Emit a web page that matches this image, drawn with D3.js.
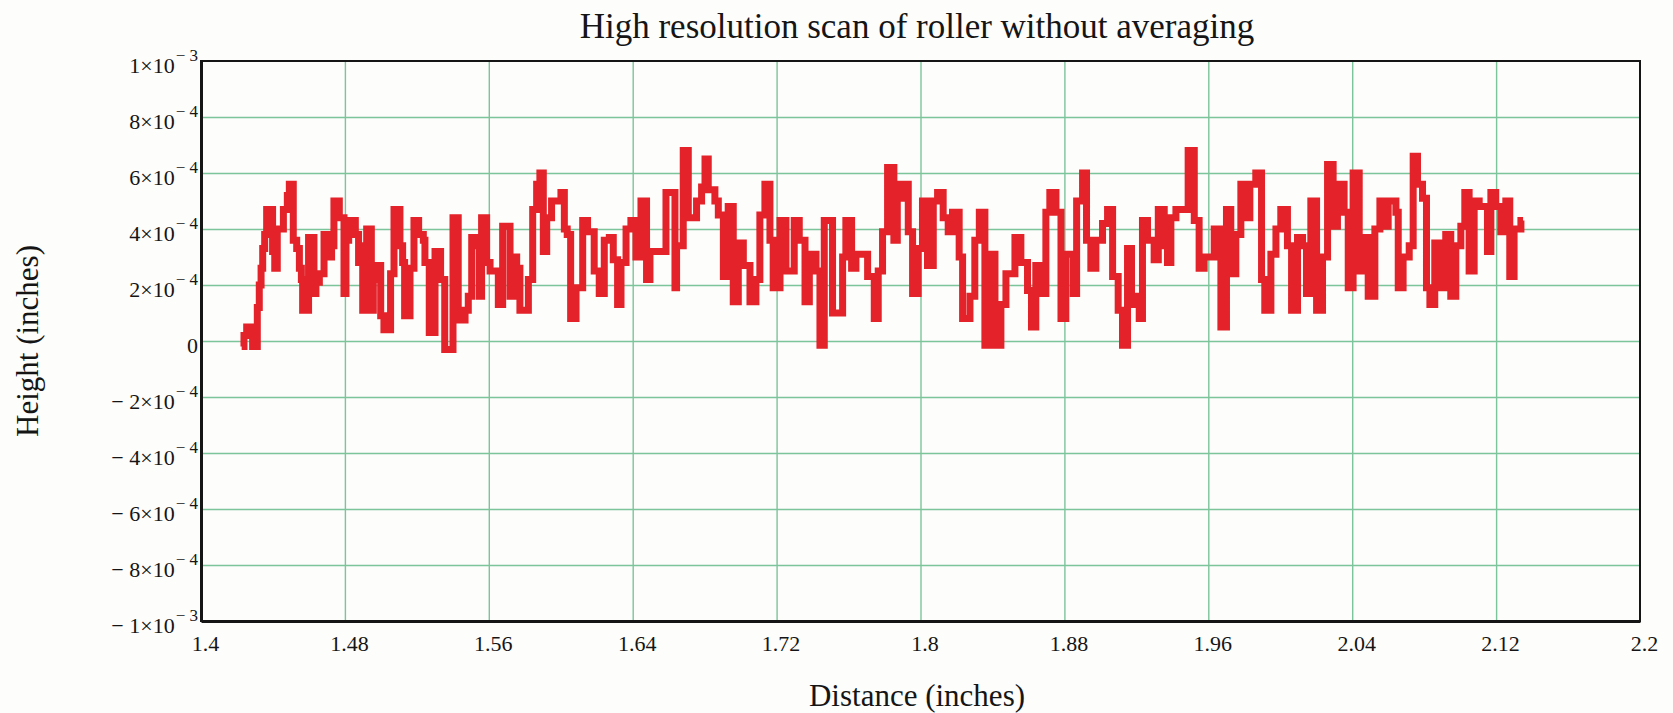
<!DOCTYPE html>
<html>
<head>
<meta charset="utf-8">
<script src="https://cdn.jsdelivr.net/npm/d3@7"></script>
<style>
  html, body { margin: 0; padding: 0; background: #fdfdfb; }
  svg { display: block; font-family: "Liberation Serif", "Times New Roman", serif; }
</style>
</head>
<body>
<svg id="chart" width="1673" height="713"></svg>
<script>
// Scan positions along the roller (inches)
const distance = [
  1.4226, 1.4239, 1.4254, 1.4287, 1.4313, 1.4324, 1.4334, 1.4343, 1.4354, 1.4365,
  1.4398, 1.4410, 1.4424, 1.4458, 1.4480, 1.4491, 1.4513, 1.4532, 1.4547, 1.4558,
  1.4565, 1.4598, 1.4628, 1.4639, 1.4658, 1.4684, 1.4712, 1.4726, 1.4739, 1.4769,
  1.4795, 1.4806, 1.4821, 1.4858, 1.4876, 1.4899, 1.4912, 1.4921, 1.4947, 1.4958,
  1.4973, 1.4999, 1.5017, 1.5054, 1.5073, 1.5106, 1.5121, 1.5132, 1.5162, 1.5184,
  1.5210, 1.5236, 1.5245, 1.5269, 1.5301, 1.5332, 1.5355,
  1.5401, 1.5430, 1.5468, 1.5486, 1.5505, 1.5532, 1.5547, 1.5560, 1.5588, 1.5607,
  1.5653, 1.5677, 1.5718, 1.5736, 1.5755, 1.5773, 1.5820, 1.5844, 1.5866, 1.5884,
  1.5903, 1.5922, 1.5949, 1.6001, 1.6020, 1.6036, 1.6055, 1.6085, 1.6122, 1.6149,
  1.6186, 1.6214, 1.6242, 1.6270, 1.6292, 1.6316, 1.6335, 1.6363, 1.6390, 1.6418,
  1.6446, 1.6477, 1.6496, 1.6585,
  1.6635, 1.6644, 1.6681, 1.6709, 1.6755, 1.6783, 1.6802, 1.6820, 1.6857, 1.6876,
  1.6904, 1.6931, 1.6959, 1.6987, 1.7015, 1.7052, 1.7085, 1.7107, 1.7135, 1.7163,
  1.7181, 1.7219, 1.7252, 1.7298, 1.7326, 1.7358, 1.7382, 1.7419, 1.7441, 1.7465,
  1.7511, 1.7567, 1.7585, 1.7617, 1.7641, 1.7706, 1.7743, 1.7765, 1.7789, 1.7817,
  1.7852, 1.7871, 1.7895, 1.7908, 1.7932, 1.7956, 1.7987, 1.8011, 1.8039, 1.8071,
  1.8095, 1.8126, 1.8154, 1.8178, 1.8215, 1.8234, 1.8275, 1.8302, 1.8327, 1.8358,
  1.8386, 1.8414, 1.8447, 1.8475, 1.8525, 1.8558, 1.8595, 1.8617, 1.8641, 1.8673,
  1.8697, 1.8719, 1.8753, 1.8781, 1.8808, 1.8849, 1.8868, 1.8901, 1.8923, 1.8947,
  1.8975, 1.9012, 1.9040,
  1.9068, 1.9099, 1.9123, 1.9151, 1.9173, 1.9197, 1.9216, 1.9234, 1.9262, 1.9299,
  1.9322, 1.9355, 1.9373, 1.9392, 1.9420, 1.9488, 1.9522, 1.9549, 1.9577, 1.9633,
  1.9670, 1.9701, 1.9725, 1.9753, 1.9781, 1.9809, 1.9831, 1.9864, 1.9896, 1.9914,
  1.9948, 1.9976, 2.0003, 2.0040, 2.0063, 2.0096, 2.0124, 2.0146, 2.0170, 2.0202,
  2.0235, 2.0263,
  2.0294, 2.0318, 2.0355, 2.0378, 2.0405, 2.0439, 2.0470, 2.0489, 2.0526, 2.0554,
  2.0578, 2.0600, 2.0643, 2.0656, 2.0683, 2.0717, 2.0739, 2.0763, 2.0791, 2.0813,
  2.0832, 2.0859, 2.0893, 2.0920, 2.0948, 2.0976, 2.1004, 2.1026, 2.1050, 2.1078,
  2.1106, 2.1152, 2.1171, 2.1198, 2.1226, 2.1254, 2.1276, 2.1300, 2.1338, 2.1350
];

// Measured height at each position, in ten-thousandths of an inch
const heightTenThou = [
  -0.2, 0.2, 0.5, -0.2, 1.2, 2.0, 2.6, 3.3, 3.8, 4.7,
  3.2, 2.6, 4.0, 4.7, 5.2, 5.6, 3.6, 3.3, 2.6, 2.2,
  1.1, 3.7, 1.7, 2.1, 2.4, 3.8, 3.0, 3.4, 5.0, 4.4,
  1.7, 3.6, 4.3, 3.8, 2.8, 1.1, 3.4, 4.0, 1.1, 2.2,
  2.7, 0.9, 0.4, 2.4, 4.7, 3.4, 2.8, 0.9, 2.6, 4.3,
  3.8, 3.6, 2.8, 0.3, 3.2, 2.2, -0.3,
  4.4, 0.75, 1.1, 1.6, 3.7, 3.4, 1.6, 4.4, 2.8, 2.5,
  1.3, 4.1, 1.6, 3.0, 2.6, 1.1, 2.2, 4.7, 5.6, 6.0,
  3.2, 4.4, 5.0, 5.3, 4.0, 3.8, 0.8, 1.9, 4.3, 3.9,
  2.5, 1.7, 3.6, 3.7, 2.9, 1.3, 2.8, 4.0, 4.3, 3.0,
  5.0, 2.2, 3.2, 5.3,
  1.9, 3.4, 6.8, 4.4, 5.0, 5.5, 6.5, 5.4, 5.0, 4.5,
  2.3, 4.8, 1.4, 3.5, 2.7, 1.4, 2.2, 4.5, 5.6, 3.6,
  1.9, 4.3, 2.5, 4.3, 3.6, 1.4, 3.1, 2.5, -0.15, 4.3,
  1.0, 3.0, 4.3, 2.6, 3.1, 2.3, 0.8, 2.5, 3.9, 6.2,
  3.6, 5.6, 5.1, 5.6, 3.9, 1.7, 3.3, 5.0, 2.7, 5.0,
  5.3, 4.4, 3.9, 4.6, 3.0, 0.8, 1.6, 3.6, 4.6, -0.15,
  3.1, -0.15, 1.3, 2.4, 3.7, 2.8, 1.8, 0.5, 2.7, 1.7,
  4.6, 5.3, 4.6, 0.8, 3.1, 1.7, 5.0, 6.0, 3.6, 2.6,
  3.6, 4.2, 4.7,
  2.3, 1.1, -0.15, 3.3, 1.3, 1.6, 0.8, 4.3, 3.6, 2.9,
  4.7, 3.4, 2.8, 4.4, 4.7, 6.8, 4.3, 2.6, 3.0, 4.0,
  0.5, 4.7, 2.4, 3.8, 5.6, 4.4, 5.6, 6.0, 2.2, 1.1,
  3.1, 4.0, 4.7, 3.4, 1.1, 3.7, 3.4, 1.7, 5.0, 1.1,
  3.0, 6.3,
  4.1, 5.6, 4.6, 1.9, 6.0, 2.5, 3.7, 1.6, 4.0, 5.0,
  4.1, 5.0, 4.6, 1.9, 3.0, 3.4, 6.6, 5.6, 5.1, 1.9,
  1.3, 3.5, 1.9, 3.8, 1.6, 3.4, 4.1, 5.3, 2.5, 5.0,
  4.8, 3.2, 5.3, 4.8, 3.9, 5.0, 2.3, 4.0, 4.3, 4.3
];

// Axis ticks
const xTickValues = [1.4, 1.48, 1.56, 1.64, 1.72, 1.8, 1.88, 1.96, 2.04, 2.12, 2.2];
const xTickLabels = ["1.4", "1.48", "1.56", "1.64", "1.72", "1.8", "1.88", "1.96", "2.04", "2.12", "2.2"];
const yTickValues = [1e-3, 8e-4, 6e-4, 4e-4, 2e-4, 0, -2e-4, -4e-4, -6e-4, -8e-4, -1e-3];
const yTickLabels = [
  "1×10^\u2212 3", "8×10^\u2212 4", "6×10^\u2212 4", "4×10^\u2212 4", "2×10^\u2212 4", "0",
  "\u2212 2×10^\u2212 4", "\u2212 4×10^\u2212 4", "\u2212 6×10^\u2212 4", "\u2212 8×10^\u2212 4", "\u2212 1×10^\u2212 3"
];

const titleText = "High resolution scan of roller without averaging";
const xTitle = "Distance (inches)";
const yTitle = "Height (inches)";

// Heights in inches
const height = heightTenThou.map(v => v * 1e-4);

const svg = d3.select("#chart");
const plot = { left: 201, right: 1640, top: 61, bottom: 621 };

const x = d3.scaleLinear().domain([1.4, 2.2]).range([plot.left, plot.right]);
const y = d3.scaleLinear().domain([-1e-3, 1e-3]).range([plot.bottom, plot.top]);

const gridColor = "#7cc49a";
const inkColor = "#151515";
const lineColor = "#e4222a";

// Vertical grid lines
svg.append("g")
  .attr("transform", `translate(0,${plot.bottom})`)
  .call(d3.axisBottom(x).tickValues(xTickValues.slice(1, -1)).tickSize(-(plot.bottom - plot.top)).tickFormat(""))
  .call(g => g.select(".domain").remove())
  .selectAll("line").attr("stroke", gridColor).attr("stroke-width", 1.4);

// Horizontal grid lines
svg.append("g")
  .attr("transform", `translate(${plot.left},0)`)
  .call(d3.axisLeft(y).tickValues(yTickValues.slice(1, -1)).tickSize(-(plot.right - plot.left)).tickFormat(""))
  .call(g => g.select(".domain").remove())
  .selectAll("line").attr("stroke", gridColor).attr("stroke-width", 1.4);

// Height profile
const profile = d3.line()
  .x((d, i) => x(distance[i]))
  .y(d => y(d))
  .curve(d3.curveStepAfter);

svg.append("path")
  .datum(height)
  .attr("d", profile)
  .attr("fill", "none")
  .attr("stroke", lineColor)
  .attr("stroke-width", 7);

// Plot frame
svg.append("rect")
  .attr("x", x(1.4)).attr("y", y(1e-3))
  .attr("width", x(2.2) - x(1.4)).attr("height", y(-1e-3) - y(1e-3))
  .attr("fill", "none").attr("stroke", inkColor).attr("stroke-width", 2);

// X axis labels
const xAxisG = svg.append("g")
  .attr("transform", `translate(0,${plot.bottom})`)
  .call(d3.axisBottom(x).tickValues(xTickValues).tickSize(0).tickPadding(14)
    .tickFormat((d, i) => xTickLabels[i]));
xAxisG.select(".domain").attr("stroke", inkColor).attr("stroke-width", 3);
xAxisG.selectAll("text")
  .attr("font-family", "Liberation Serif, Times New Roman, serif")
  .attr("font-size", 22).attr("fill", inkColor).attr("dx", 4);

// Y axis labels with superscript exponents
const yAxisG = svg.append("g")
  .attr("transform", `translate(${plot.left},0)`)
  .call(d3.axisLeft(y).tickValues(yTickValues).tickSize(0).tickFormat(""));
yAxisG.select(".domain").attr("stroke", inkColor).attr("stroke-width", 3);
yAxisG.selectAll(".tick").each(function (d, i) {
  const parts = yTickLabels[i].split("^");
  const t = d3.select(this).append("text")
    .attr("x", -3).attr("y", 11).attr("dy", 0)
    .attr("text-anchor", "end")
    .attr("font-family", "Liberation Serif, Times New Roman, serif")
    .attr("font-size", 22).attr("fill", inkColor);
  t.append("tspan").text(parts[0]);
  if (parts[1]) t.append("tspan").attr("dx", 1).attr("dy", -12).attr("font-size", 17).text(parts[1]);
});

// Titles
svg.append("text")
  .attr("x", 917).attr("y", 38)
  .attr("text-anchor", "middle")
  .attr("font-size", 35).attr("fill", inkColor)
  .text(titleText);

svg.append("text")
  .attr("x", 917).attr("y", 706)
  .attr("text-anchor", "middle")
  .attr("font-size", 31).attr("fill", inkColor)
  .text(xTitle);

svg.append("text")
  .attr("transform", `translate(38,${(plot.top + plot.bottom) / 2}) rotate(-90)`)
  .attr("text-anchor", "middle")
  .attr("font-size", 31).attr("fill", inkColor)
  .text(yTitle);
</script>
</body>
</html>
